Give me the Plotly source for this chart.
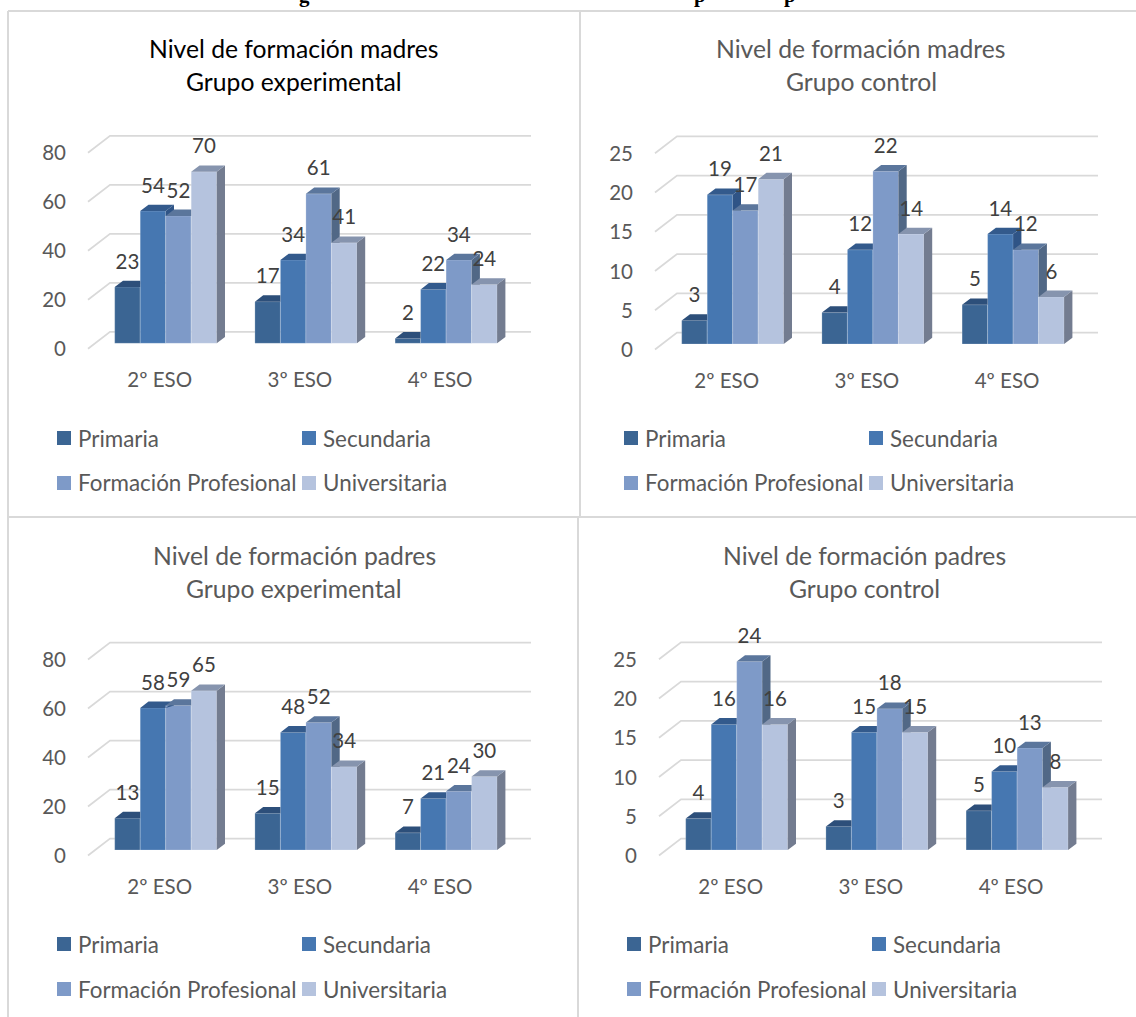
import plotly.graph_objects as go

# Source values
CATEGORIES = ["2º ESO", "3º ESO", "4º ESO"]
LEVELS = ["Primaria", "Secundaria", "Formación Profesional", "Universitaria"]

MADRES_EXP_PRIMARIA = [23, 17, 2]
MADRES_EXP_SECUNDARIA = [54, 34, 22]
MADRES_EXP_FP = [52, 61, 34]
MADRES_EXP_UNIV = [70, 41, 24]

MADRES_CTL_PRIMARIA = [3, 4, 5]
MADRES_CTL_SECUNDARIA = [19, 12, 14]
MADRES_CTL_FP = [17, 22, 12]
MADRES_CTL_UNIV = [21, 14, 6]

PADRES_EXP_PRIMARIA = [13, 15, 7]
PADRES_EXP_SECUNDARIA = [58, 48, 21]
PADRES_EXP_FP = [59, 52, 24]
PADRES_EXP_UNIV = [65, 34, 30]

PADRES_CTL_PRIMARIA = [4, 3, 5]
PADRES_CTL_SECUNDARIA = [16, 15, 10]
PADRES_CTL_FP = [24, 18, 13]
PADRES_CTL_UNIV = [16, 15, 8]

TICKS_EXP = [0, 20, 40, 60, 80]
TICKS_CTL = [0, 5, 10, 15, 20, 25]

# Descenders of the page heading, cropped at the top edge
HEADING_GLYPHS = [("g", 304), ("p", 700), ("p", 790)]

# Colours per education level: front, top and side faces of the bars
FRONT = ["#3b6593", "#4677b1", "#7e9ac8", "#b5c3de"]
TOP = ["#2d4f7a", "#335a8c", "#5b769c", "#8694ae"]
SIDE = ["#2a4a72", "#2f5486", "#516886", "#737c90"]
GRID = "#d9d9d9"
TEXT = "#595959"
LABEL = "#404040"
FONT = "Lato"

W, H = 1136, 1017
GROUP_STEP = 140.2   # px between category centres
BAR_W = 25.5         # px
BAR_DX, BAR_DY = 8.3, 6.3       # extrusion of each bar
WALL_DX = 22                    # floor depth
WALL_FRONT, WALL_BACK = 5.5, 11.5

PANELS = [
    dict(title=["Nivel de formación madres", "Grupo experimental"], title_color="#000000", title_x=294, title_y=[49, 81],
         series=[MADRES_EXP_PRIMARIA, MADRES_EXP_SECUNDARIA, MADRES_EXP_FP, MADRES_EXP_UNIV],
         ticks=TICKS_EXP, unit=2.45, ox=0, base=343.3, legend_ox=0, legend_y=[438, 483]),
    dict(title=["Nivel de formación madres", "Grupo control"], title_color=TEXT, title_x=861, title_y=[49, 81],
         series=[MADRES_CTL_PRIMARIA, MADRES_CTL_SECUNDARIA, MADRES_CTL_FP, MADRES_CTL_UNIV],
         ticks=TICKS_CTL, unit=7.85, ox=567, base=344, legend_ox=567, legend_y=[438, 483]),
    dict(title=["Nivel de formación padres", "Grupo experimental"], title_color=TEXT, title_x=294, title_y=[555, 588],
         series=[PADRES_EXP_PRIMARIA, PADRES_EXP_SECUNDARIA, PADRES_EXP_FP, PADRES_EXP_UNIV],
         ticks=TICKS_EXP, unit=2.45, ox=0, base=850, legend_ox=0, legend_y=[944, 989]),
    dict(title=["Nivel de formación padres", "Grupo control"], title_color=TEXT, title_x=864, title_y=[555, 588],
         series=[PADRES_CTL_PRIMARIA, PADRES_CTL_SECUNDARIA, PADRES_CTL_FP, PADRES_CTL_UNIV],
         ticks=TICKS_CTL, unit=7.85, ox=571, base=850, legend_ox=570, legend_y=[944, 989]),
]


def px(x):
    return x / W


def py(y):
    return 1 - y / H


fig = go.Figure()
shapes = []
annotations = []
layout_axes = {}

for idx, p in enumerate(PANELS, start=1):
    suffix = "" if idx == 1 else str(idx)
    xa, ya = f"x{suffix}", f"y{suffix}"
    u = p["unit"]
    ox = p["ox"]
    base = p["base"]
    left, right = 67 + ox, 531 + ox
    top, bottom = base - 225, base + 16
    first_centre = 165.7 + ox

    def to_x(pixels):
        return pixels / GROUP_STEP

    x0_range = to_x(left - first_centre)
    x1_range = to_x(right - first_centre)
    layout_axes[f"xaxis{suffix}"] = dict(
        domain=[px(left), px(right)], range=[x0_range, x1_range], anchor=ya,
        tickmode="array", tickvals=list(range(len(CATEGORIES))), ticktext=CATEGORIES,
        showgrid=False, zeroline=False, showline=False, ticks="",
        tickfont=dict(family=FONT, size=20.5, color=TEXT), ticklabelshift=-6, ticklabelstandoff=6,
    )
    layout_axes[f"yaxis{suffix}"] = dict(
        domain=[py(bottom), py(top)], range=[-(bottom - base) / u, (base - top) / u], anchor=xa,
        tickmode="array", tickvals=p["ticks"], ticktext=[str(t) for t in p["ticks"]],
        showgrid=False, zeroline=False, showline=False, ticks="",
        tickfont=dict(family=FONT, size=20.5, color=TEXT), ticklabelshift=6,
    )

    # Receding gridlines: short floor edge, then the back wall
    wall_x0 = to_x(88 + ox - first_centre)
    wall_x1 = wall_x0 + to_x(WALL_DX)
    for t in p["ticks"]:
        y_front = t - WALL_FRONT / u
        y_back = t + WALL_BACK / u
        shapes.append(dict(
            type="path", xref=xa, yref=ya, layer="below",
            path=f"M {wall_x0},{y_front} L {wall_x1},{y_back} L {x1_range},{y_back}",
            line=dict(color=GRID, width=1.75),
        ))

    w = to_x(BAR_W)
    ddx = to_x(BAR_DX)
    ddy = BAR_DY / u

    # Front faces
    for s, values in enumerate(p["series"]):
        fig.add_trace(go.Bar(
            x=list(range(len(CATEGORIES))), y=values, name=LEVELS[s],
            marker=dict(color=FRONT[s], line=dict(color="rgba(255,255,255,0.28)", width=0.75)),
            xaxis=xa, yaxis=ya, showlegend=False, hoverinfo="skip",
        ))

    # Top and side faces, trimmed where the next bar's front hides them
    for s, values in enumerate(p["series"]):
        top_x, top_y, side_x, side_y = [], [], [], []
        for c, v in enumerate(values):
            l = c + (s - 2) * w
            r = l + w
            nxt = p["series"][s + 1][c] if s < 3 else None
            if nxt is None or nxt <= v:
                top_x += [l, r, r + ddx, l + ddx, l, None]
                top_y += [v, v, v + ddy, v + ddy, v, None]
            elif nxt >= v + ddy:
                top_x += [l, r, r, l + ddx, l, None]
                top_y += [v, v, v + ddy, v + ddy, v, None]
            else:
                frac = (nxt - v) / ddy
                top_x += [l, r, r, r + ddx * frac, r + ddx, l + ddx, l, None]
                top_y += [v, v, nxt, nxt, v + ddy, v + ddy, v, None]
            if nxt is None:
                side_x += [r, r, r + ddx, r + ddx, r, None]
                side_y += [0, v, v + ddy, ddy, 0, None]
            elif nxt < v + ddy:
                side_x += [r, r, r + ddx, r + ddx, r, None]
                side_y += [min(nxt, v), v, v + ddy, nxt, min(nxt, v), None]
        for xs, ys, colour in ((side_x, side_y, SIDE[s]), (top_x, top_y, TOP[s])):
            fig.add_trace(go.Scatter(
                x=xs, y=ys, mode="lines", fill="toself", fillcolor=colour,
                line=dict(width=0, color=colour), xaxis=xa, yaxis=ya,
                showlegend=False, hoverinfo="skip",
            ))

    # Value labels, a fixed distance above each bar
    for s, values in enumerate(p["series"]):
        fig.add_trace(go.Scatter(
            x=[c + (s - 1.5) * w for c in range(len(values))],
            y=[v + 23.5 / u for v in values],
            mode="text", text=[str(v) for v in values], textposition="middle center",
            textfont=dict(family=FONT, size=20.5, color=LABEL),
            xaxis=xa, yaxis=ya, showlegend=False, hoverinfo="skip", cliponaxis=False,
        ))

    # Title lines
    for line, yy in zip(p["title"], p["title_y"]):
        annotations.append(dict(
            x=px(p["title_x"]), y=py(yy), xref="paper", yref="paper", text=line, showarrow=False,
            xanchor="center", yanchor="middle",
            font=dict(family=FONT, size=24.7, color=p["title_color"]),
        ))

    # Two-column legend
    lo = p["legend_ox"]
    cols = [57 + lo, 302 + lo]
    for i, name in enumerate(LEVELS):
        lx = cols[i % 2]
        ly = p["legend_y"][i // 2]
        shapes.append(dict(
            type="rect", xref="paper", yref="paper", layer="above",
            x0=px(lx), x1=px(lx + 14), y0=py(ly - 7), y1=py(ly + 7),
            fillcolor=FRONT[i], line=dict(width=0),
        ))
        annotations.append(dict(
            x=px(lx + 19), y=py(ly), xref="paper", yref="paper", text=name, showarrow=False,
            xanchor="left", yanchor="middle",
            font=dict(family=FONT, size=22.4, color=TEXT),
        ))

# Heading fragments above the frame
for glyph, gx in HEADING_GLYPHS:
    annotations.append(dict(
        x=px(gx), y=py(-5), xref="paper", yref="paper", text=f"<b>{glyph}</b>", showarrow=False,
        xanchor="center", yanchor="middle",
        font=dict(family="Liberation Serif", size=21, color="#000000"),
    ))

# Panel frame
for x0, y0, x1, y1 in [(8, 11, W, 11), (8, 11, 8, H), (8, 517, W, 517), (580, 11, 580, 517), (578, 517, 578, H)]:
    shapes.append(dict(
        type="line", xref="paper", yref="paper", layer="below",
        x0=px(x0), x1=px(x1), y0=py(y0), y1=py(y1),
        line=dict(color=GRID, width=2),
    ))

fig.update_layout(
    width=W, height=H, autosize=False, margin=dict(l=0, r=0, t=0, b=0),
    paper_bgcolor="white", plot_bgcolor="rgba(0,0,0,0)",
    barmode="group", bargap=1 - 4 * BAR_W / GROUP_STEP, bargroupgap=0,
    shapes=shapes, annotations=annotations, showlegend=False,
    **layout_axes,
)
fig.write_html("out.html")
